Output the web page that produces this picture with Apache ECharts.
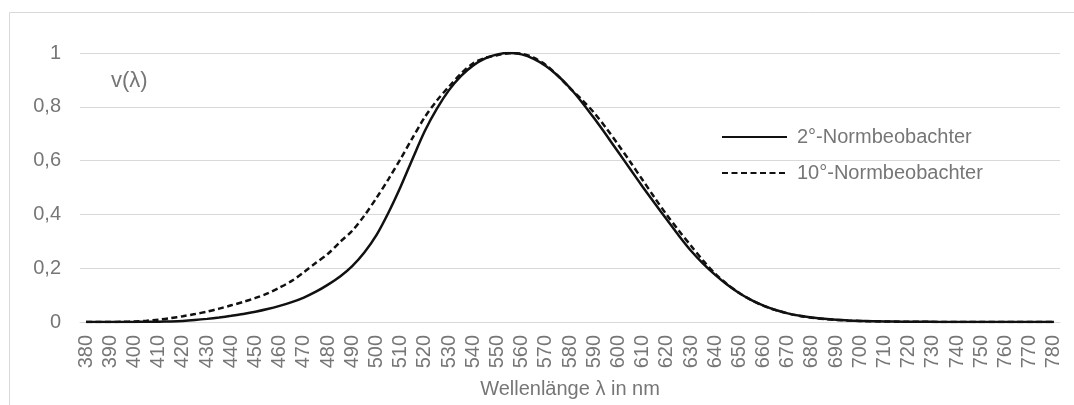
<!DOCTYPE html>
<html>
<head>
<meta charset="utf-8">
<script src="https://cdn.jsdelivr.net/npm/echarts@6/dist/echarts.min.js"></script>
<style>
html,body{margin:0;padding:0;background:#fff;}
#c{width:1074px;height:405px;}
</style>
</head>
<body>
<div id="c"></div>
<script>
// Tick labels on the wavelength axis (nm)
const tickLabels = [380,390,400,410,420,430,440,450,460,470,480,490,500,510,520,530,540,550,560,570,580,590,600,610,620,630,640,650,660,670,680,690,700,710,720,730,740,750,760,770,780];
// Wavelengths of the data points (nm)
const wavelengths = [380,385,390,395,400,405,410,415,420,425,430,435,440,445,450,455,460,465,470,475,480,485,490,495,500,505,510,515,520,525,530,535,540,545,550,555,560,565,570,575,580,585,590,595,600,605,610,615,620,625,630,635,640,645,650,655,660,665,670,675,680,685,690,695,700,705,710,715,720,725,730,735,740,745,750,755,760,765,770,775,780];
// 2° observer V(λ)
const v2 = [0.000039,0.000064,0.00012,0.000217,0.000396,0.00064,0.00121,0.00218,0.004,0.0073,0.0116,0.01684,0.023,0.0298,0.038,0.048,0.06,0.0739,0.09098,0.1126,0.13902,0.1693,0.20802,0.2586,0.323,0.4073,0.503,0.6082,0.71,0.7932,0.862,0.91485,0.954,0.9803,0.99495,1.0,0.995,0.9786,0.952,0.9154,0.87,0.8163,0.757,0.6949,0.631,0.5668,0.503,0.4412,0.381,0.321,0.265,0.217,0.175,0.1382,0.107,0.0816,0.061,0.04458,0.032,0.0232,0.017,0.01192,0.00821,0.005723,0.004102,0.002929,0.002091,0.001484,0.001047,0.00074,0.00052,0.000361,0.000249,0.000172,0.00012,0.0000848,0.00006,0.0000424,0.00003,0.0000212,0.000015];
// 10° observer V10(λ)
const v10 = [0.000017,0.000072,0.000253,0.000769,0.002004,0.004509,0.008756,0.014456,0.021391,0.029497,0.038676,0.049602,0.062077,0.074704,0.089456,0.106256,0.128201,0.152761,0.18519,0.21994,0.253589,0.297665,0.339133,0.395379,0.460777,0.53136,0.606741,0.68566,0.761757,0.82333,0.875211,0.92381,0.961988,0.9822,0.991761,0.99911,0.99734,0.98238,0.955552,0.915175,0.868934,0.825623,0.777405,0.720353,0.658341,0.593878,0.527963,0.461834,0.398057,0.339554,0.283493,0.228254,0.179828,0.140211,0.107633,0.081187,0.060281,0.044096,0.0318,0.022602,0.015905,0.01113,0.007749,0.005375,0.003718,0.002565,0.001768,0.001222,0.000846,0.000586,0.000407,0.000284,0.000199,0.00014,0.000098,0.00007,0.00005,0.000036,0.000025,0.000018,0.000013];
const yTicks = [0,0.2,0.4,0.6,0.8,1];
const seriesNames = ['2°-Normbeobachter','10°-Normbeobachter'];
const xTitle = 'Wellenlänge λ in nm';
const yTitle = 'v(λ)';

const txt = '#767676';
const font = 'Liberation Sans, Arial, sans-serif';
const chart = echarts.init(document.getElementById('c'), null, {renderer:'canvas'});
const pairs = arr => wavelengths.map((w,i)=>[w,arr[i]]);
chart.setOption({
  animation:false,
  backgroundColor:'#fff',
  textStyle:{fontFamily:font},
  grid:{left:80,right:14,top:53,bottom:83,containLabel:false},
  xAxis:{
    type:'value', min:377.5, max:782.5,
    axisLine:{show:true,lineStyle:{color:'#d9d9d9',width:1}},
    axisTick:{show:false},
    splitLine:{show:false},
    axisLabel:{customValues:tickLabels, rotate:90, margin:13, color:txt, fontSize:20, fontFamily:font},
    name:xTitle, nameLocation:'middle', nameGap:57,
    nameTextStyle:{color:txt,fontSize:20,fontFamily:font}
  },
  yAxis:{
    type:'value', min:0, max:1, interval:0.2,
    axisLine:{show:false}, axisTick:{show:false},
    splitLine:{lineStyle:{color:'#d9d9d9',width:1}},
    axisLabel:{customValues:yTicks,color:txt,fontSize:20,margin:19,fontFamily:font,
      formatter:v=>String(+(+v).toFixed(1)).replace('.',',')}
  },
  legend:{
    orient:'vertical', left:716, top:122,
    itemWidth:65, itemHeight:20, itemGap:16,
    itemStyle:{opacity:0},
    textStyle:{color:txt,fontSize:20,fontFamily:font,padding:[0,0,0,5]},
    data:seriesNames
  },
  graphic:[
    {type:'rect',silent:true,z:-1,shape:{x:9.5,y:12.5,width:1200,height:600},style:{fill:'none',stroke:'#d9d9d9',lineWidth:1}},
    {type:'text',left:111,top:70,style:{text:yTitle,fill:txt,font:'22px '+font}}
  ],
  series:[
    {name:seriesNames[0],type:'line',data:pairs(v2),smooth:0.3,symbol:'none',showSymbol:false,
      lineStyle:{color:'#111',width:2.5,type:'solid'},itemStyle:{color:'#111'}},
    {name:seriesNames[1],type:'line',data:pairs(v10),smooth:0.3,symbol:'none',showSymbol:false,
      lineStyle:{color:'#111',width:2.5,type:[6,3.5]},itemStyle:{color:'#111'}}
  ]
});
</script>
</body>
</html>
